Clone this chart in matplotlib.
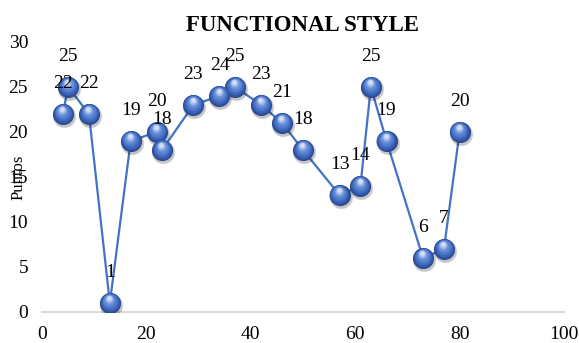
import numpy as np
import matplotlib.pyplot as plt
import matplotlib.transforms as mtransforms
from matplotlib.colors import to_rgb

# Data
x_vals = [4, 5, 9, 13, 17, 22, 23, 29, 34, 37, 42, 46, 50, 57, 61, 63, 66, 73, 77, 80]
y_vals = [22, 25, 22, 1, 19, 20, 18, 23, 24, 25, 23, 21, 18, 13, 14, 25, 19, 6, 7, 20]
x_ticks = [0, 20, 40, 60, 80, 100]
y_ticks = [0, 5, 10, 15, 20, 25, 30]
title = 'FUNCTIONAL STYLE'
y_label = 'Puntos'

plt.rcParams['font.family'] = ['Liberation Serif', 'DejaVu Serif']

fig = plt.figure(figsize=(5.79, 3.43), dpi=100)
ax = fig.add_axes([0.0725, 0.0904, 0.9016, 0.7872])

line_color = '#4472C4'
ax.plot(x_vals, y_vals, color=line_color, lw=1.6, zorder=2)

# shaded spheres: soft shadow, then stacked discs lighter toward the top
ball = 230
for k, (a, grow) in enumerate([(0.10, 1.25), (0.14, 1.1)]):
    shadow = mtransforms.offset_copy(ax.transData, fig=fig, x=1.0, y=-2.5, units='dots')
    ax.scatter(x_vals, y_vals, s=ball * grow, color='#000000', alpha=a,
               transform=shadow, zorder=3 + k * 0.1, linewidths=0)

stops = [(0.0, '#2A4790'), (0.35, '#4470C6'), (0.7, '#6D93DA'), (1.0, '#D2DEF6')]
def ramp(t):
    for (t0, c0), (t1, c1) in zip(stops[:-1], stops[1:]):
        if t <= t1:
            u = (t - t0) / (t1 - t0)
            return np.array(to_rgb(c0)) * (1 - u) + np.array(to_rgb(c1)) * u
    return np.array(to_rgb(stops[-1][1]))

n = 16
for i in range(n):
    t = i / (n - 1)
    frac = 1.0 - 0.8 * t
    off = mtransforms.offset_copy(ax.transData, fig=fig, x=-0.8 * t, y=5.0 * t, units='dots')
    ax.scatter(x_vals, y_vals, s=ball * frac ** 2, color=ramp(t), transform=off,
               zorder=4 + i, linewidths=0)

# value labels above each point
for xv, yv in zip(x_vals, y_vals):
    ax.annotate(str(yv), (xv, yv), xytext=(0, 22), textcoords='offset points',
                ha='center', va='center', fontsize=14, zorder=30)

ax.set_xlim(0, 100)
ax.set_ylim(0, 30)
ax.set_xticks(x_ticks)
ax.set_yticks(y_ticks)
ax.tick_params(length=0, labelsize=14)
ax.tick_params(axis='y', pad=10)
ax.tick_params(axis='x', pad=10)
for side in ['top', 'right', 'left']:
    ax.spines[side].set_visible(False)
ax.spines['bottom'].set_color('#D9D9D9')
ax.spines['bottom'].set_linewidth(1.5)

ax.set_title(title, fontsize=16.5, fontweight='bold', pad=8)
ax.set_ylabel(y_label, fontsize=12)
ax.yaxis.set_label_coords(-0.029, 0.5)

fig.savefig('out.png', dpi=100)
